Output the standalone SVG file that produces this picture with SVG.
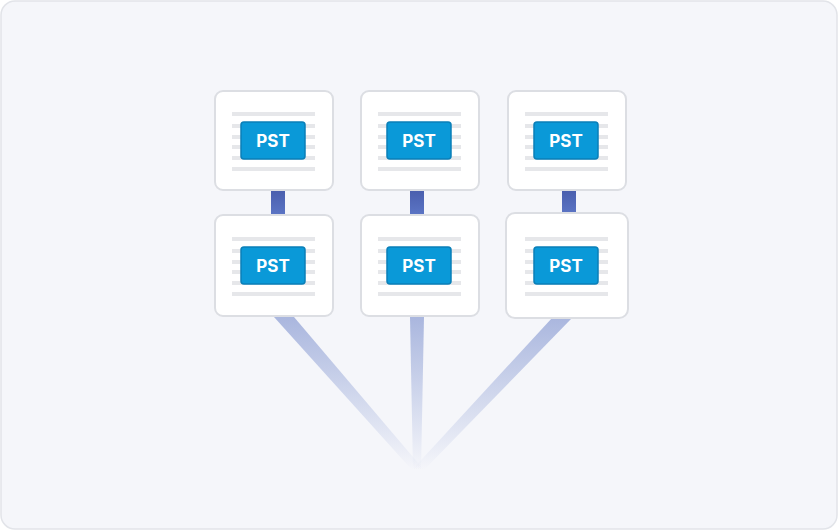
<svg xmlns="http://www.w3.org/2000/svg" width="838" height="530" viewBox="0 0 838 530">
<defs>
<style>
.card{fill:#fff;stroke:#dcdee3;stroke-width:2}
.ln{stroke:#e6e7ea;stroke-width:4}
.badge{fill:#0a99d8;stroke:#0a7fb8;stroke-width:1.5}
.t{font-family:Inter,"Liberation Sans",sans-serif;font-weight:700;font-size:17px;fill:#fff;text-anchor:middle}
</style>
<linearGradient id="v" x1="0" y1="0" x2="0" y2="1"><stop offset="0" stop-color="#4a5fae"/><stop offset="1" stop-color="#5b74c4"/></linearGradient>
<linearGradient id="f" gradientUnits="userSpaceOnUse" x1="0" y1="316" x2="0" y2="470"><stop offset="0" stop-color="#a9b6de"/><stop offset="1" stop-color="#a9b6de" stop-opacity="0"/></linearGradient>
<g id="doc">
<path class="ln" d="M17 23h83M17 35h83M17 46h83M17 56h83M17 67h83M17 78h83"/>
<rect class="badge" x="26" y="31" width="64" height="37" rx="3"/>
<text class="t" x="58" y="56">PST</text>
</g>
</defs>
<rect x="1" y="1" width="836" height="528" rx="14" fill="#f5f6fa" stroke="#e2e4e9" stroke-width="1.5"/>
<g id="connectors">
<rect x="271" y="191" width="14" height="23" fill="url(#v)"/>
<rect x="410" y="191" width="14" height="23" fill="url(#v)"/>
<rect x="562" y="191" width="14" height="22" fill="url(#v)"/>
<polygon points="274,317 294,317 424,470 412,470" fill="url(#f)"/>
<polygon points="410,317 424,317 421,470 413,470" fill="url(#f)"/>
<polygon points="552,318 572,318 424,470 412,470" fill="url(#f)"/>
</g>
<g id="n1"><rect class="card" x="215" y="91" width="118" height="99" rx="8"/><use href="#doc" x="215" y="91"/></g>
<g id="n2"><rect class="card" x="361" y="91" width="118" height="99" rx="8"/><use href="#doc" x="361" y="91"/></g>
<g id="n3"><rect class="card" x="508" y="91" width="118" height="99" rx="8"/><use href="#doc" x="508" y="91"/></g>
<g id="n4"><rect class="card" x="215" y="215" width="118" height="101" rx="8"/><use href="#doc" x="215" y="216"/></g>
<g id="n5"><rect class="card" x="361" y="215" width="118" height="101" rx="8"/><use href="#doc" x="361" y="216"/></g>
<g id="n6"><rect class="card" x="506" y="213" width="122" height="105" rx="9"/><use href="#doc" x="508" y="216"/></g>
</svg>
